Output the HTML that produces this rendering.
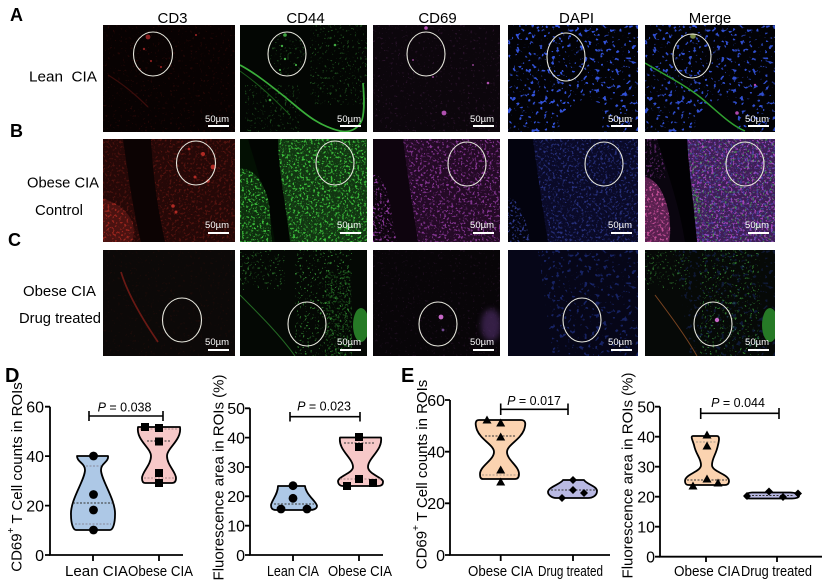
<!DOCTYPE html>
<html><head><meta charset="utf-8"><style>
html,body{margin:0;padding:0;background:#fff;}
svg{display:block;font-family:"Liberation Sans",Arial,sans-serif;}
</style></head><body>
<svg width="824" height="587" viewBox="0 0 824 587" xmlns="http://www.w3.org/2000/svg">
<defs>
<filter id="gD" filterUnits="userSpaceOnUse" x="0" y="0" width="135" height="110" color-interpolation-filters="sRGB"><feTurbulence type="fractalNoise" baseFrequency="0.45" numOctaves="2" seed="4"/><feColorMatrix type="matrix" values="0 0 0 0 0.25  0 0 0 0 0.8  0 0 0 0 0.25  7 0 0 0 -3.8"/><feComposite operator="in" in2="SourceAlpha"/></filter>
<filter id="gS" filterUnits="userSpaceOnUse" x="0" y="0" width="135" height="110" color-interpolation-filters="sRGB"><feTurbulence type="fractalNoise" baseFrequency="0.4" numOctaves="2" seed="9"/><feColorMatrix type="matrix" values="0 0 0 0 0.3  0 0 0 0 0.8  0 0 0 0 0.3  12 0 0 0 -7.7"/><feComposite operator="in" in2="SourceAlpha"/></filter>
<filter id="rD" filterUnits="userSpaceOnUse" x="0" y="0" width="135" height="110" color-interpolation-filters="sRGB"><feTurbulence type="fractalNoise" baseFrequency="0.42" numOctaves="2" seed="2"/><feColorMatrix type="matrix" values="0 0 0 0 0.75  0 0 0 0 0.18  0 0 0 0 0.14  7 0 0 0 -3.9"/><feComposite operator="in" in2="SourceAlpha"/></filter>
<filter id="rS" filterUnits="userSpaceOnUse" x="0" y="0" width="135" height="110" color-interpolation-filters="sRGB"><feTurbulence type="fractalNoise" baseFrequency="0.4" numOctaves="2" seed="12"/><feColorMatrix type="matrix" values="0 0 0 0 0.7  0 0 0 0 0.15  0 0 0 0 0.12  12 0 0 0 -7.9"/><feComposite operator="in" in2="SourceAlpha"/></filter>
<filter id="mD" filterUnits="userSpaceOnUse" x="0" y="0" width="135" height="110" color-interpolation-filters="sRGB"><feTurbulence type="fractalNoise" baseFrequency="0.42" numOctaves="2" seed="6"/><feColorMatrix type="matrix" values="0 0 0 0 0.72  0 0 0 0 0.3  0 0 0 0 0.8  7 0 0 0 -3.9"/><feComposite operator="in" in2="SourceAlpha"/></filter>
<filter id="mS" filterUnits="userSpaceOnUse" x="0" y="0" width="135" height="110" color-interpolation-filters="sRGB"><feTurbulence type="fractalNoise" baseFrequency="0.4" numOctaves="2" seed="15"/><feColorMatrix type="matrix" values="0 0 0 0 0.75  0 0 0 0 0.35  0 0 0 0 0.8  12 0 0 0 -8"/><feComposite operator="in" in2="SourceAlpha"/></filter>
<filter id="bD" filterUnits="userSpaceOnUse" x="0" y="0" width="135" height="110" color-interpolation-filters="sRGB"><feTurbulence type="fractalNoise" baseFrequency="0.42" numOctaves="2" seed="7"/><feColorMatrix type="matrix" values="0 0 0 0 0.3  0 0 0 0 0.38  0 0 0 0 0.9  7 0 0 0 -3.9"/><feComposite operator="in" in2="SourceAlpha"/></filter>
<filter id="bS" filterUnits="userSpaceOnUse" x="0" y="0" width="135" height="110" color-interpolation-filters="sRGB"><feTurbulence type="fractalNoise" baseFrequency="0.25" numOctaves="2" seed="21"/><feColorMatrix type="matrix" values="0 0 0 0 0.22  0 0 0 0 0.36  0 0 0 0 0.95  12 0 0 0 -7.4"/><feComposite operator="in" in2="SourceAlpha"/></filter>
<filter id="pD" filterUnits="userSpaceOnUse" x="0" y="0" width="135" height="110" color-interpolation-filters="sRGB"><feTurbulence type="fractalNoise" baseFrequency="0.42" numOctaves="2" seed="31"/><feColorMatrix type="matrix" values="0 0 0 0 0.85  0 0 0 0 0.35  0 0 0 0 0.65  7 0 0 0 -3.8"/><feComposite operator="in" in2="SourceAlpha"/></filter>
<filter id="blur2" x="-50%" y="-50%" width="200%" height="200%"><feGaussianBlur stdDeviation="3"/></filter>
</defs>
<rect width="824" height="587" fill="#fff"/>

<g font-weight="bold" fill="#000">
<text x="10" y="21" font-size="18">A</text>
<text x="10" y="137" font-size="18">B</text>
<text x="8" y="246" font-size="18">C</text>
<text x="5" y="382" font-size="20">D</text>
<text x="401" y="382" font-size="20">E</text>
</g>
<g font-size="15" fill="#000" text-anchor="middle">
<text x="172.5" y="23">CD3</text>
<text x="305.5" y="23">CD44</text>
<text x="437.5" y="23">CD69</text>
<text x="576.5" y="23">DAPI</text>
<text x="710" y="23">Merge</text>
</g>
<g font-size="15" fill="#000">
<text x="29" y="81.5" textLength="68" lengthAdjust="spacingAndGlyphs">Lean&#160;&#160;CIA</text>
<text x="27" y="187.5" textLength="72" lengthAdjust="spacingAndGlyphs">Obese CIA</text>
<text x="35" y="215" textLength="48" lengthAdjust="spacingAndGlyphs">Control</text>
<text x="23" y="296" textLength="73" lengthAdjust="spacingAndGlyphs">Obese CIA</text>
<text x="19" y="323" textLength="82" lengthAdjust="spacingAndGlyphs">Drug treated</text>
</g>

<!-- ROW A -->
<svg x="103" y="25" width="132" height="107">
<rect width="132" height="107" fill="#080202"/>
<rect width="132" height="107" fill="#fff" fill-opacity="0.15" filter="url(#rS)"/>
<path d="M5,50 Q25,62 45,82" stroke="#3a0c0a" stroke-width="1.3" fill="none"/>
<g fill="#8a2020"><circle cx="45" cy="12" r="2.4"/><circle cx="41" cy="24" r="1.2"/><circle cx="48" cy="36" r="1.1"/><circle cx="58" cy="42" r="1.1"/><circle cx="37" cy="44" r="0.9"/><circle cx="93" cy="10" r="1.1"/></g>
<ellipse cx="50" cy="29" rx="19.5" ry="22" fill="none" stroke="#e6e6dc" stroke-width="1.1"/>
<text x="126" y="97" font-size="9.5" text-anchor="end" fill="#fff">50µm</text><rect x="105" y="100" width="21" height="2" fill="#fff"/>
</svg>

<svg x="240" y="25" width="127" height="107">
<rect width="127" height="107" fill="#030603"/>
<path d="M70,0 H127 V80 H70 Z" fill="#fff" fill-opacity="0.35" filter="url(#gS)"/>
<path d="M5,60 H60 V107 H5 Z" fill="#fff" fill-opacity="0.3" filter="url(#gS)"/>
<ellipse cx="47" cy="29" rx="19" ry="22" fill="#fff" fill-opacity="0.3" filter="url(#gS)"/>
<path d="M0,40 C15,48 30,60 45,72 C60,84 75,100 100,106 C110,108 118,104 122,95 C125,85 124,70 123,58" stroke="#3aae3a" stroke-width="1.7" fill="none"/>
<path d="M0,46 C20,60 35,75 50,90" stroke="#1a5a1a" stroke-width="1" fill="none"/>
<g fill="#40a840"><circle cx="45" cy="10" r="1.8"/><circle cx="42" cy="21" r="1.2"/><circle cx="45" cy="34" r="1.2"/><circle cx="40" cy="45" r="1.1"/><circle cx="56" cy="40" r="1.1"/><circle cx="95" cy="20" r="1.3"/><circle cx="30" cy="75" r="1.3"/></g>
<ellipse cx="47" cy="29" rx="19" ry="22" fill="none" stroke="#e6e6dc" stroke-width="1.1"/>
<text x="121" y="97" font-size="9.5" text-anchor="end" fill="#fff">50µm</text><rect x="100" y="100" width="21" height="2" fill="#fff"/>
</svg>

<svg x="373" y="25" width="127" height="107">
<rect width="127" height="107" fill="#0c060c"/>
<rect width="127" height="107" fill="#fff" fill-opacity="0.15" filter="url(#mS)"/>
<g fill="#b050b0"><circle cx="53" cy="3" r="1.8"/><circle cx="71" cy="88" r="2.4"/><circle cx="115" cy="58" r="1.3"/><circle cx="40" cy="35" r="0.9"/><circle cx="60" cy="52" r="0.9"/><circle cx="100" cy="40" r="0.9"/></g>
<ellipse cx="53" cy="29" rx="19" ry="22" fill="none" stroke="#e6e6dc" stroke-width="1.1"/>
<text x="121" y="97" font-size="9.5" text-anchor="end" fill="#fff">50µm</text><rect x="100" y="100" width="21" height="2" fill="#fff"/>
</svg>

<svg x="508" y="25" width="130" height="107">
<rect width="130" height="107" fill="#020206"/>
<path fill-rule="evenodd" d="M0,0 H130 V107 H0 Z M52,107 C52,85 68,70 92,78 C97,90 94,100 94,107 Z" fill="#fff" fill-opacity="0.9" filter="url(#bS)"/>
<ellipse cx="58" cy="32" rx="19" ry="24" fill="none" stroke="#e6e6dc" stroke-width="1.1"/>
<text x="124" y="97" font-size="9.5" text-anchor="end" fill="#fff">50µm</text><rect x="103" y="100" width="21" height="2" fill="#fff"/>
</svg>

<svg x="645" y="25" width="130" height="107">
<rect width="130" height="107" fill="#020206"/>
<path fill-rule="evenodd" d="M0,0 H130 V107 H0 Z M50,107 C50,85 66,70 90,78 C95,90 92,100 92,107 Z" fill="#fff" fill-opacity="0.85" filter="url(#bS)"/>
<path d="M0,38 C20,50 40,60 55,72 C70,84 85,100 100,106" stroke="#30a030" stroke-width="1.5" fill="none"/>
<circle cx="48" cy="11" r="2.8" fill="#7a8a48"/>
<g fill="#b048b0"><circle cx="92" cy="88" r="1.8"/><circle cx="110" cy="60" r="1.2"/></g>
<ellipse cx="47" cy="31" rx="19" ry="22" fill="none" stroke="#e6e6dc" stroke-width="1.1"/>
<text x="124" y="97" font-size="9.5" text-anchor="end" fill="#fff">50µm</text><rect x="103" y="100" width="21" height="2" fill="#fff"/>
</svg>

<!-- ROW B -->
<svg x="103" y="139" width="132" height="103">
<rect width="132" height="103" fill="#250807"/>
<path d="M48,0 H132 V103 H62 C55,70 50,40 48,0 Z" fill="#fff" fill-opacity="0.3" filter="url(#rD)"/>
<path d="M0,0 H20 C25,35 30,70 38,103 H0 Z" fill="#fff" fill-opacity="0.25" filter="url(#rD)"/>
<path d="M20,0 L48,0 C50,40 55,70 62,103 L38,103 C30,70 25,35 20,0 Z" fill="#0c0303"/>
<path d="M0,60 C10,62 25,70 30,85 C32,95 30,103 28,103 L0,103 Z" fill="#4a1210"/>
<path d="M0,60 C10,62 25,70 30,85 C32,95 30,103 28,103 L0,103 Z" fill="#fff" fill-opacity="0.7" filter="url(#rD)"/>
<g fill="#b02a24"><circle cx="100" cy="15" r="2"/><circle cx="110" cy="28" r="2.4"/><circle cx="92" cy="38" r="1.5"/><circle cx="105" cy="42" r="1.8"/><circle cx="86" cy="10" r="1.4"/><circle cx="70" cy="67" r="1.8"/><circle cx="73" cy="73" r="1.5"/></g>
<ellipse cx="93" cy="24" rx="19.5" ry="22" fill="none" stroke="#e6e6dc" stroke-width="1.1"/>
<text x="126" y="89" font-size="9.5" text-anchor="end" fill="#fff">50µm</text><rect x="105" y="93" width="21" height="2" fill="#fff"/>
</svg>

<svg x="240" y="139" width="127" height="103">
<rect width="127" height="103" fill="#031003"/>
<path d="M38,0 L127,0 L127,103 L50,103 C45,60 38,30 38,0 Z" fill="#123612"/>
<path d="M38,0 L127,0 L127,103 L50,103 C45,60 38,30 38,0 Z" fill="#fff" fill-opacity="0.9" filter="url(#gD)"/>
<path d="M8,0 L38,0 C38,30 45,60 50,103 L35,103 C30,70 20,40 8,0 Z" fill="#020502"/>
<path d="M0,30 C12,28 22,40 28,60 C32,80 30,95 32,103 L0,103 Z" fill="#0e2e0e"/>
<path d="M0,30 C12,28 22,40 28,60 C32,80 30,95 32,103 L0,103 Z" fill="#fff" fill-opacity="0.9" filter="url(#gD)"/>
<ellipse cx="95" cy="24" rx="19" ry="22" fill="none" stroke="#e6e6dc" stroke-width="1.1"/>
<text x="121" y="89" font-size="9.5" text-anchor="end" fill="#fff">50µm</text><rect x="100" y="93" width="21" height="2" fill="#fff"/>
</svg>

<svg x="373" y="139" width="127" height="103">
<rect width="127" height="103" fill="#0e040e"/>
<path d="M30,0 L127,0 L127,103 L45,103 C40,70 35,40 30,0 Z" fill="#240a26"/>
<path d="M30,0 L127,0 L127,103 L45,103 C40,70 35,40 30,0 Z" fill="#fff" fill-opacity="0.65" filter="url(#mD)"/>
<path d="M0,35 C8,35 15,50 18,70 C20,85 22,95 24,103 L0,103 Z" fill="#fff" fill-opacity="0.75" filter="url(#mD)"/>
<ellipse cx="94" cy="25" rx="19" ry="22" fill="none" stroke="#e6e6dc" stroke-width="1.1"/>
<text x="121" y="89" font-size="9.5" text-anchor="end" fill="#fff">50µm</text><rect x="100" y="93" width="21" height="2" fill="#fff"/>
</svg>

<svg x="508" y="139" width="130" height="103">
<rect width="130" height="103" fill="#03030e"/>
<path d="M25,0 L130,0 L130,103 L40,103 C35,70 30,40 25,0 Z" fill="#0a0a28"/>
<path d="M25,0 L130,0 L130,103 L40,103 C35,70 30,40 25,0 Z" fill="#fff" fill-opacity="0.45" filter="url(#bD)"/>
<path d="M0,58 C10,60 18,75 22,103 L0,103 Z" fill="#fff" fill-opacity="0.6" filter="url(#bD)"/>
<ellipse cx="96" cy="25" rx="19" ry="22" fill="none" stroke="#e6e6dc" stroke-width="1.1"/>
<text x="124" y="89" font-size="9.5" text-anchor="end" fill="#fff">50µm</text><rect x="103" y="93" width="21" height="2" fill="#fff"/>
</svg>

<svg x="645" y="139" width="130" height="103">
<rect width="130" height="103" fill="#0a050f"/>
<path d="M40,0 L130,0 L130,103 L52,103 C48,60 44,30 40,0 Z" fill="#3e1e56"/>
<path d="M40,0 L130,0 L130,103 L52,103 C48,60 44,30 40,0 Z" fill="#fff" fill-opacity="0.85" filter="url(#mD)"/>
<path d="M40,0 L130,0 L130,103 L52,103 C48,60 44,30 40,0 Z" fill="#fff" fill-opacity="0.45" filter="url(#bD)"/>
<path d="M40,0 L130,0 L130,103 L52,103 C48,60 44,30 40,0 Z" fill="#fff" fill-opacity="0.6" filter="url(#gS)"/>
<path d="M36,45 C48,45 58,55 58,70 C58,80 50,82 42,80 C38,70 36,55 36,45 Z" fill="#fff" fill-opacity="0.75" filter="url(#gD)"/>
<path d="M12,0 L42,0 C44,30 48,60 52,103 L40,103 C35,70 25,40 12,0 Z" fill="#020104"/>
<path d="M0,0 L12,0 C18,20 22,35 20,40 L0,38 Z" fill="#fff" fill-opacity="0.45" filter="url(#mD)"/>
<path d="M0,38 C12,40 20,55 24,75 C26,90 25,100 24,103 L0,103 Z" fill="#5a2050"/>
<path d="M0,38 C12,40 20,55 24,75 C26,90 25,100 24,103 L0,103 Z" fill="#fff" fill-opacity="0.85" filter="url(#pD)"/>
<ellipse cx="100" cy="25" rx="19" ry="22" fill="none" stroke="#e6e6dc" stroke-width="1.1"/>
<text x="124" y="89" font-size="9.5" text-anchor="end" fill="#fff">50µm</text><rect x="103" y="93" width="21" height="2" fill="#fff"/>
</svg>

<!-- ROW C -->
<svg x="103" y="250" width="132" height="106">
<rect width="132" height="106" fill="#0c0908"/>
<rect width="132" height="106" fill="#fff" fill-opacity="0.08" filter="url(#rS)"/>
<path d="M18,22 C25,45 40,70 55,92" stroke="#7a1c16" stroke-width="1.7" fill="none" opacity="0.85"/>
<ellipse cx="79" cy="70" rx="19.5" ry="22" fill="none" stroke="#e6e6dc" stroke-width="1.1"/>
<text x="126" y="95" font-size="9.5" text-anchor="end" fill="#fff">50µm</text><rect x="105" y="99" width="21" height="2" fill="#fff"/>
</svg>

<svg x="240" y="250" width="127" height="106">
<rect width="127" height="106" fill="#040804"/>
<path d="M0,0 H45 V40 H0 Z" fill="#fff" fill-opacity="0.45" filter="url(#gS)"/>
<path d="M55,0 H112 V106 H55 Z" fill="#fff" fill-opacity="0.6" filter="url(#gS)"/>
<path d="M85,20 H112 V106 H85 Z" fill="#fff" fill-opacity="0.35" filter="url(#gD)"/>
<path d="M0,45 C20,65 40,85 55,106" stroke="#246a24" stroke-width="1" fill="none"/>
<ellipse cx="121" cy="75" rx="8" ry="17" fill="#267a26"/>
<ellipse cx="67" cy="74" rx="19" ry="22" fill="none" stroke="#e6e6dc" stroke-width="1.1"/>
<text x="121" y="95" font-size="9.5" text-anchor="end" fill="#fff">50µm</text><rect x="100" y="99" width="21" height="2" fill="#fff"/>
</svg>

<svg x="373" y="250" width="127" height="106">
<rect width="127" height="106" fill="#080508"/>
<rect width="127" height="106" fill="#fff" fill-opacity="0.1" filter="url(#mS)"/>
<ellipse cx="118" cy="75" rx="10" ry="16" fill="#5a3478" opacity="0.55" filter="url(#blur2)"/>
<circle cx="68" cy="67" r="2.4" fill="#c868c8"/>
<circle cx="70" cy="80" r="1.4" fill="#704890"/>
<ellipse cx="65" cy="74" rx="19" ry="22" fill="none" stroke="#e6e6dc" stroke-width="1.1"/>
<text x="121" y="95" font-size="9.5" text-anchor="end" fill="#fff">50µm</text><rect x="100" y="99" width="21" height="2" fill="#fff"/>
</svg>

<svg x="508" y="250" width="130" height="106">
<rect width="130" height="106" fill="#060618"/>
<path d="M30,0 H130 V106 H45 Z" fill="#fff" fill-opacity="0.35" filter="url(#bS)"/>
<ellipse cx="74" cy="70" rx="19" ry="22" fill="none" stroke="#e6e6dc" stroke-width="1.1"/>
<text x="124" y="95" font-size="9.5" text-anchor="end" fill="#fff">50µm</text><rect x="103" y="99" width="21" height="2" fill="#fff"/>
</svg>

<svg x="645" y="250" width="130" height="106">
<rect width="130" height="106" fill="#060907"/>
<path d="M0,0 H45 V40 H0 Z" fill="#fff" fill-opacity="0.45" filter="url(#gS)"/>
<path d="M55,0 H115 V106 H55 Z" fill="#fff" fill-opacity="0.55" filter="url(#gS)"/>
<path d="M30,0 H130 V106 H45 Z" fill="#fff" fill-opacity="0.2" filter="url(#bS)"/>
<path d="M10,45 C25,65 40,85 52,106" stroke="#7a4420" stroke-width="1" fill="none"/>
<ellipse cx="125" cy="75" rx="8" ry="17" fill="#267a26"/>
<circle cx="72" cy="70" r="2.2" fill="#c868c8"/>
<ellipse cx="68" cy="74" rx="19" ry="22" fill="none" stroke="#e6e6dc" stroke-width="1.1"/>
<text x="124" y="95" font-size="9.5" text-anchor="end" fill="#fff">50µm</text><rect x="103" y="99" width="21" height="2" fill="#fff"/>
</svg>

<!-- ===== CHARTS ===== -->
<g font-size="16" fill="#000" text-anchor="end">
<text x="44" y="412.5">60</text><text x="44" y="461.9">40</text><text x="44" y="511.4">20</text><text x="44" y="560.8">0</text>
<text x="245" y="414.1">50</text><text x="245" y="443.4">40</text><text x="245" y="472.8">30</text><text x="245" y="502.1">20</text><text x="245" y="531.5">10</text><text x="245" y="560.8">0</text>
<text x="445" y="405.8">60</text><text x="445" y="457.5">40</text><text x="445" y="509.1">20</text><text x="445" y="560.8">0</text>
<text x="655" y="412.5">50</text><text x="655" y="442.5">40</text><text x="655" y="472.5">30</text><text x="655" y="502.5">20</text><text x="655" y="532.5">10</text><text x="655" y="562.5">0</text>
</g>

<g font-size="15" fill="#000">
<text transform="translate(17,477) rotate(-90)" text-anchor="middle" dominant-baseline="central">CD69<tspan font-size="10" dy="-6">+</tspan><tspan dy="6"> T Cell counts in ROIs</tspan></text>
<text transform="translate(219,477.5) rotate(-90)" text-anchor="middle" dominant-baseline="central">Fluorescence area in ROIs (%)</text>
<text transform="translate(422,474.5) rotate(-90)" text-anchor="middle" dominant-baseline="central">CD69<tspan font-size="10" dy="-6">+</tspan><tspan dy="6"> T Cell counts in ROIs</tspan></text>
<text transform="translate(628,475.5) rotate(-90)" text-anchor="middle" dominant-baseline="central">Fluorescence area in ROIs (%)</text>

<text x="65" y="576" textLength="63" lengthAdjust="spacingAndGlyphs">Lean CIA</text>
<text x="128" y="576" textLength="65" lengthAdjust="spacingAndGlyphs">Obese CIA</text>
<text x="267" y="576" textLength="52" lengthAdjust="spacingAndGlyphs">Lean CIA</text>
<text x="328" y="576" textLength="64" lengthAdjust="spacingAndGlyphs">Obese CIA</text>
<text x="468" y="576" textLength="65" lengthAdjust="spacingAndGlyphs">Obese CIA</text>
<text x="538" y="576" textLength="65" lengthAdjust="spacingAndGlyphs">Drug treated</text>
<text x="674" y="576" textLength="66" lengthAdjust="spacingAndGlyphs">Obese CIA</text>
<text x="741" y="576" textLength="71" lengthAdjust="spacingAndGlyphs">Drug treated</text>
</g>

<g font-size="12.5" fill="#000" text-anchor="middle">
<text x="124.5" y="411.5"><tspan font-style="italic">P</tspan> = 0.038</text>
<text x="324" y="410.7"><tspan font-style="italic">P</tspan> = 0.023</text>
<text x="534" y="405"><tspan font-style="italic">P</tspan> = 0.017</text>
<text x="738" y="407"><tspan font-style="italic">P</tspan> = 0.044</text>
</g>

<g stroke="#000" stroke-width="1.8" fill="none">
<path d="M50,406.7 V555 H183"/>
<path d="M45,406.7 H50 M45,456.1 H50 M45,505.6 H50 M45,555 H50 M93,555 V561 M159,555 V561"/>
<path d="M250,408.3 V555 H383"/>
<path d="M245,408.3 H250 M245,437.6 H250 M245,467 H250 M245,496.3 H250 M245,525.7 H250 M245,555 H250 M293,555 V561 M359,555 V561"/>
<path d="M450,400 V555 H610"/>
<path d="M445,400 H450 M445,451.7 H450 M445,503.3 H450 M445,555 H450 M500.7,555 V561 M573,555 V561"/>
<path d="M660,406.7 V556.7 H822"/>
<path d="M655,406.7 H660 M655,436.7 H660 M655,466.7 H660 M655,496.7 H660 M655,526.7 H660 M655,556.7 H660 M706,556.7 V562 M777,556.7 V562"/>
</g>
<g stroke="#000" stroke-width="1.6" fill="none">
<path d="M89,411 V421 M89,416 H163 M163,411 V421"/>
<path d="M290,412 V421.5 M290,416.7 H360 M360,412 V421.5"/>
<path d="M500.7,403.5 V415 M500.7,409.3 H568 M568,403.5 V415"/>
<path d="M700.7,408 V419 M700.7,413.3 H779 M779,408 V419"/>
</g>

<g stroke="#000" stroke-width="1.8" stroke-linejoin="round">
<path fill="#adc8e6" d="M77,456 L108,456 C109,462 101,463 101,470 C101,480 116,500 115,515 C115,523 113,530 110,530 L76,530 C73,530 71,523 71,515 C70,500 85,480 85,470 C85,463 77,462 77,456 Z"/>
<path fill="#f7c8c8" d="M138,427 L180,427 C182,440 167,448 167,456 C167,465 176,472 176,478 C176,482 174,483 172,483 L145,483 C143,483 142,481 142,478 C142,472 151,465 151,456 C151,448 136,440 138,427 Z"/>
<path fill="#adc8e6" d="M278,486 L305,486 C306,495 317,502 317,506 C317,509 313,510 310,510 L276,510 C272,510 271,508 271,505 C272,500 278,494 278,486 Z"/>
<path fill="#f7c8c8" d="M340,437.5 L381,437.5 C383,450 368,458 368,467 C368,474 384,478 383,482 C383,485 381,486 378,486 L343,486 C340,486 338,484 338,481 C339,476 353,473 353,467 C353,458 338,450 340,437.5 Z"/>
<path fill="#fbd3b0" d="M479,420 L521,420 C526,420 526,424 524,430 C520,440 507,445 507,452 C507,460 519,466 519,474 C519,478 517,479 515,479 L483,479 C480,479 480,476 480,474 C480,466 494,460 494,452 C494,445 481,440 477,430 C475,424 475,420 479,420 Z"/>
<path fill="#b9b9e3" d="M563,480 L584,480 C586,484 597,486 597,491 C597,496 592,498 588,498 L556,498 C552,498 548,495 548,492 C548,487 561,484 563,480 Z"/>
<path fill="#fbd3b0" d="M693,436 L717,436 C720,436 719,441 718,445 C716,455 712,458 712,465 C712,472 729,474 729,481 C729,484 727,485 725,485 L689,485 C686,485 685,484 685,481 C685,474 701,472 701,465 C701,458 696,455 694,445 C693,441 690,436 693,436 Z"/>
<path fill="#b9b9e3" d="M752,492.5 L790,492.5 C796,492.5 799,494.5 799,496 C799,497.5 796,498.5 792,498.5 L749,498.5 C746,498.5 745,497.5 745,496 C745,494.5 748,492.5 752,492.5 Z"/>
</g>
<g stroke="#333" stroke-width="0.9" stroke-dasharray="2 1.5" fill="none">
<path d="M73,503 H114"/>
<path d="M86,466 H101 M75,524 H111" stroke="#889"/>
<path d="M147,441 H171"/>
<path d="M140,429 H178 M144,478 H174" stroke="#a88"/>
<path d="M274,504 H314"/>
<path d="M344,443 H374"/>
<path d="M340,479 H381" stroke="#a88"/>
<path d="M485,436 H516"/>
<path d="M482,475 H518" stroke="#a98"/>
<path d="M551,490 H595"/>
<path d="M687,480 H727"/>
<path d="M696,442 H717" stroke="#a98"/>
<path d="M752,495.5 H794"/>
</g>

<g fill="#000">
<circle cx="93.5" cy="456" r="4.4"/><circle cx="93.5" cy="494.5" r="4.4"/><circle cx="93.5" cy="510" r="4.4"/><circle cx="93.5" cy="530" r="4.4"/>
<rect x="141" y="423" width="8" height="8"/><rect x="155" y="424" width="8" height="8"/><rect x="155" y="437.5" width="8" height="8"/><rect x="155" y="469" width="8" height="8"/><rect x="155" y="479" width="8" height="8"/>
<circle cx="293" cy="485.7" r="4.4"/><circle cx="293" cy="498.3" r="4.4"/><circle cx="281" cy="509" r="4.4"/><circle cx="307" cy="509" r="4.4"/>
<rect x="355" y="433" width="8" height="8"/><rect x="355" y="443" width="8" height="8"/><rect x="355" y="475" width="8" height="8"/><rect x="343" y="482" width="8" height="8"/><rect x="369" y="479" width="8" height="8"/>
<polygon points="487,415.5 491.5,423.5 482.5,423.5"/><polygon points="500.7,418.5 505.2,426.5 496.2,426.5"/><polygon points="500.7,432.5 505.2,440.5 496.2,440.5"/><polygon points="500.7,465.5 505.2,473.5 496.2,473.5"/><polygon points="500.7,477.5 505.2,485.5 496.2,485.5"/>
<polygon points="573,476 577,480 573,484 569,480"/><polygon points="573,486 577,490 573,494 569,490"/><polygon points="584,489 588,493 584,497 580,493"/><polygon points="562,494 566,498 562,502 558,498"/>
<polygon points="707,430.5 711.5,438.5 702.5,438.5"/><polygon points="707,441.5 711.5,449.5 702.5,449.5"/><polygon points="707,474.5 711.5,482.5 702.5,482.5"/><polygon points="718,478.5 722.5,486.5 713.5,486.5"/><polygon points="693,481.5 697.5,489.5 688.5,489.5"/>
<polygon points="747,492 751,496 747,500 743,496"/><polygon points="769,487.5 773,491.5 769,495.5 765,491.5"/><polygon points="783,493 787,497 783,501 779,497"/><polygon points="798,489.5 802,493.5 798,497.5 794,493.5"/>
</g>
</svg>
</body></html>
